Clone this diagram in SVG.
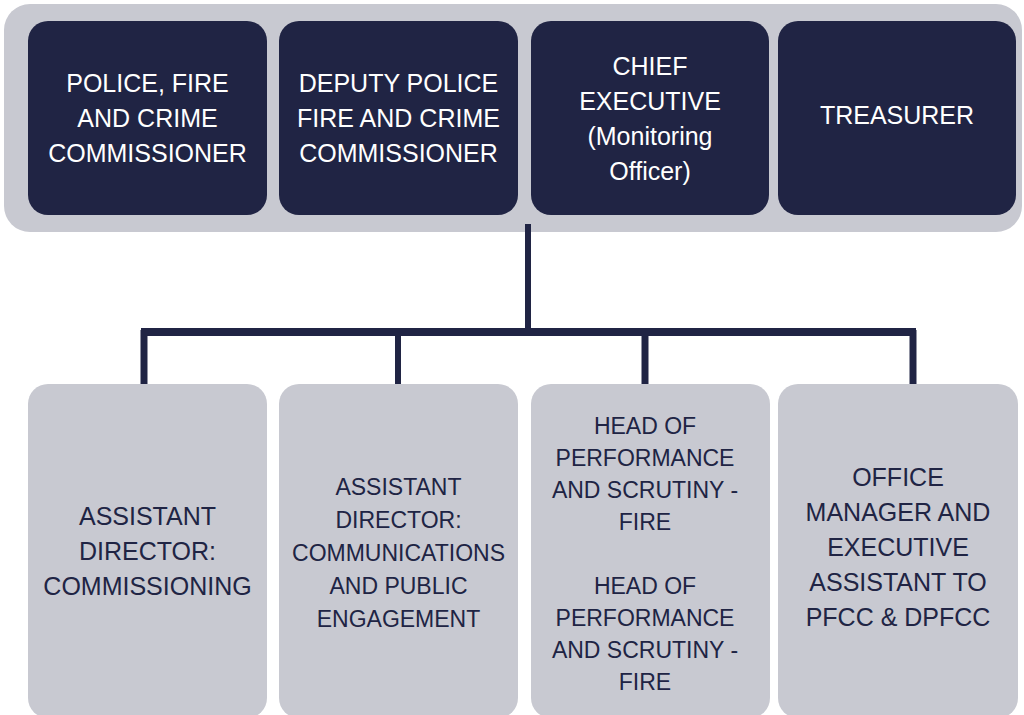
<svg xmlns="http://www.w3.org/2000/svg" width="1024" height="715" viewBox="0 0 1024 715">
<style>
.band{fill:#c8c9d1}
.top{fill:#202444}
.bot{fill:#c8c9d1}
.tw{font-family:"Liberation Sans",Arial,sans-serif;font-size:25px;fill:#ffffff;text-anchor:middle}
.tb{font-family:"Liberation Sans",Arial,sans-serif;font-size:25px;fill:#202444;text-anchor:middle}
.ts{font-size:23px}
.conn{stroke:#202444;fill:none}
</style>
<rect class="band" x="4" y="4" width="1018" height="228" rx="26"/>
<g id="connectors">
<line class="conn" x1="528" y1="224" x2="528" y2="336" stroke-width="6"/>
<line class="conn" x1="141" y1="332" x2="916" y2="332" stroke-width="8"/>
<line class="conn" x1="144" y1="330" x2="144" y2="385" stroke-width="7"/>
<line class="conn" x1="398" y1="330" x2="398" y2="385" stroke-width="6"/>
<line class="conn" x1="645" y1="330" x2="645" y2="385" stroke-width="7"/>
<line class="conn" x1="913" y1="330" x2="913" y2="385" stroke-width="7"/>
</g>
<g id="pfcc">
<rect class="top" x="28" y="21" width="239" height="194" rx="20"/>
<text class="tw" x="147.5" y="92">POLICE, FIRE</text>
<text class="tw" x="147.5" y="127">AND CRIME</text>
<text class="tw" x="147.5" y="162">COMMISSIONER</text>
</g>
<g id="dpfcc">
<rect class="top" x="279" y="21" width="239" height="194" rx="20"/>
<text class="tw" x="398.5" y="92">DEPUTY POLICE</text>
<text class="tw" x="398.5" y="127">FIRE AND CRIME</text>
<text class="tw" x="398.5" y="162">COMMISSIONER</text>
</g>
<g id="chief">
<rect class="top" x="531" y="21" width="238" height="194" rx="20"/>
<text class="tw" x="650" y="74.5">CHIEF</text>
<text class="tw" x="650" y="109.5">EXECUTIVE</text>
<text class="tw" x="650" y="144.5">(Monitoring</text>
<text class="tw" x="650" y="179.5">Officer)</text>
</g>
<g id="treasurer">
<rect class="top" x="778" y="21" width="238" height="194" rx="20"/>
<text class="tw" x="897" y="124">TREASURER</text>
</g>
<g id="ad-commissioning">
<rect class="bot" x="28" y="384" width="239" height="334" rx="20"/>
<text class="tb" x="147.5" y="525">ASSISTANT</text>
<text class="tb" x="147.5" y="560">DIRECTOR:</text>
<text class="tb" x="147.5" y="595">COMMISSIONING</text>
</g>
<g id="ad-communications">
<rect class="bot" x="279" y="384" width="239" height="334" rx="20"/>
<text class="tb ts" x="398.5" y="495">ASSISTANT</text>
<text class="tb ts" x="398.5" y="528">DIRECTOR:</text>
<text class="tb ts" x="398.5" y="561">COMMUNICATIONS</text>
<text class="tb ts" x="398.5" y="594">AND PUBLIC</text>
<text class="tb ts" x="398.5" y="627">ENGAGEMENT</text>
</g>
<g id="head-performance">
<rect class="bot" x="531" y="384" width="239" height="334" rx="20"/>
<text class="tb ts" x="645" y="434">HEAD OF</text>
<text class="tb ts" x="645" y="466">PERFORMANCE</text>
<text class="tb ts" x="645" y="498">AND SCRUTINY -</text>
<text class="tb ts" x="645" y="530">FIRE</text>
<text class="tb ts" x="645" y="594">HEAD OF</text>
<text class="tb ts" x="645" y="626">PERFORMANCE</text>
<text class="tb ts" x="645" y="658">AND SCRUTINY -</text>
<text class="tb ts" x="645" y="690">FIRE</text>
</g>
<g id="office-manager">
<rect class="bot" x="778" y="384" width="240" height="334" rx="20"/>
<text class="tb" x="898" y="486">OFFICE</text>
<text class="tb" x="898" y="521">MANAGER AND</text>
<text class="tb" x="898" y="556">EXECUTIVE</text>
<text class="tb" x="898" y="591">ASSISTANT TO</text>
<text class="tb" x="898" y="626">PFCC &amp; DPFCC</text>
</g>
</svg>
